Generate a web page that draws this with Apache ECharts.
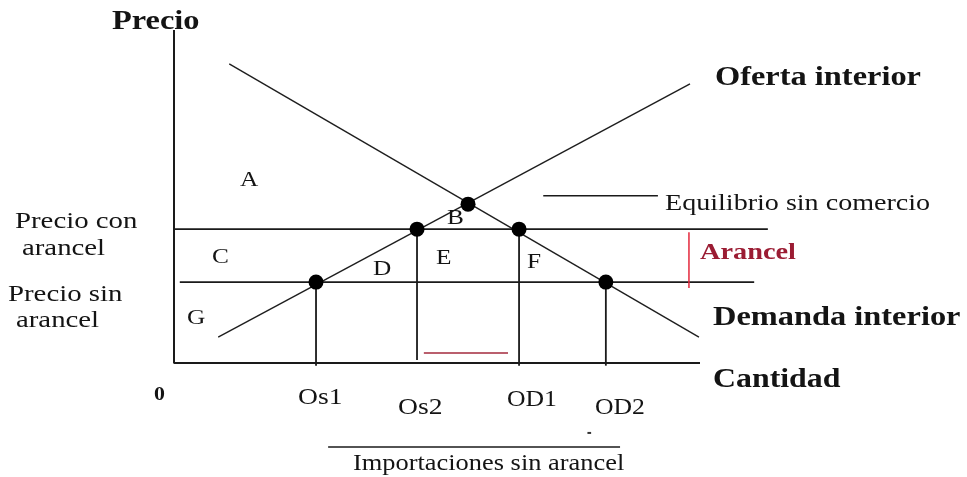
<!DOCTYPE html>
<html><head><meta charset="utf-8">
<script src="https://cdn.jsdelivr.net/npm/echarts@6/dist/echarts.min.js"></script>
<style>html,body{margin:0;padding:0;background:#fff}#c{width:967px;height:477px}</style>
</head><body><div id="c"></div>
<script>
// ---- data (economic units: quantity on x, price on y) ----
const quantityLabels = ['Os1', 'Os2', 'OD1', 'OD2'];
const quantities = [27.0, 46.2, 65.6, 82.1];
const priceWithoutTariff = 24.3;
const priceWithTariff = 40.2;
const equilibrium = [55.9, 47.7];
const supplyCurve = [[8.4, 7.8], [98.1, 83.8]];
const demandCurve = [[10.5, 89.8], [99.8, 7.8]];
const axisMax = [100, 100];
const priceLineWithTariffQ = [0, 112.9];
const priceLineWithoutTariffQ = [1.1, 110.3];
const tariffBracket = { q: 97.9, p: [22.5, 39.3] };
const importsWithTariff = { q: [47.5, 63.5], p: 3.0 };
const equilibriumLeader = { q: [70.2, 92.0], p: 50.2 };
const importsWithoutTariff = { q: [29.3, 84.8], p: -25.2 };
const strayDash = { q: [78.6, 79.3], p: -21.0 };
const areaLabels = ['A', 'B', 'C', 'D', 'E', 'F', 'G'];

const FONT = '"Liberation Serif", "Times New Roman", serif';
const INK = '#141414';

function seg(data, color, width) {
  return { type: 'line', data: data, clip: false, symbol: 'none', silent: true,
    lineStyle: { color: color, width: width, opacity: 1 }, z: 2 };
}

const series = [
  seg([[0, axisMax[1]], [0, 0], [axisMax[0], 0]], '#1a1a1a', 2),
  seg(supplyCurve, '#1e1e1e', 1.4),
  seg(demandCurve, '#1e1e1e', 1.4),
  seg([[priceLineWithTariffQ[0], priceWithTariff], [priceLineWithTariffQ[1], priceWithTariff]], '#1a1a1a', 1.6),
  seg([[priceLineWithoutTariffQ[0], priceWithoutTariff], [priceLineWithoutTariffQ[1], priceWithoutTariff]], '#1a1a1a', 1.6),
  seg([[quantities[0], priceWithoutTariff], [quantities[0], -0.8]], '#1a1a1a', 1.8),
  seg([[quantities[1], priceWithTariff], [quantities[1], 0.9]], '#1a1a1a', 1.8),
  seg([[quantities[2], priceWithTariff], [quantities[2], -0.8]], '#1a1a1a', 1.8),
  seg([[quantities[3], priceWithoutTariff], [quantities[3], -0.8]], '#1a1a1a', 1.8),
  seg([[tariffBracket.q, tariffBracket.p[0]], [tariffBracket.q, tariffBracket.p[1]]], '#e4283c', 1.5),
  seg([[importsWithTariff.q[0], importsWithTariff.p], [importsWithTariff.q[1], importsWithTariff.p]], '#a32a3c', 1.6),
  seg([[equilibriumLeader.q[0], equilibriumLeader.p], [equilibriumLeader.q[1], equilibriumLeader.p]], '#1a1a1a', 1.5),
  seg([[importsWithoutTariff.q[0], importsWithoutTariff.p], [importsWithoutTariff.q[1], importsWithoutTariff.p]], '#1a1a1a', 1.5),
  seg([[strayDash.q[0], strayDash.p], [strayDash.q[1], strayDash.p]], '#333333', 2),
  { type: 'scatter', silent: true, z: 3, symbolSize: 15, itemStyle: { color: '#000000', opacity: 1 },
    data: [[quantities[0], priceWithoutTariff], [quantities[1], priceWithTariff],
           [quantities[2], priceWithTariff], [quantities[3], priceWithoutTariff], equilibrium] }
];

function txt(text, x, y, weight, size, sx, color) {
  return { type: 'text', x: x, y: y, scaleX: sx, z: 10, silent: true,
    style: { text: text, fill: color || INK,
      font: weight + ' ' + size + 'px ' + FONT,
      align: 'left', verticalAlign: 'middle', textAlign: 'left', textVerticalAlign: 'middle' } };
}

const areaPos = [[240, 180], [447, 218], [212, 257], [373, 269], [436, 258], [527, 262], [187, 318]];
const tickPos = [[298, 398], [398, 408], [507, 400], [595, 408]];

const graphics = [
  txt('Precio', 112, 22, 'bold', 27, 1.2),
  txt('Oferta interior', 715, 78, 'bold', 27, 1.2),
  txt('Equilibrio sin comercio', 665, 204, 'normal', 24, 1.17),
  txt('Arancel', 700, 253, 'bold', 24, 1.18, '#9b1c33'),
  txt('Demanda interior', 713, 318, 'bold', 27, 1.2),
  txt('Cantidad', 713, 380, 'bold', 27, 1.18),
  txt('Precio con', 15, 222, 'normal', 24, 1.2),
  txt('arancel', 22, 249, 'normal', 24, 1.2),
  txt('Precio sin', 8, 295, 'normal', 24, 1.2),
  txt('arancel', 16, 321, 'normal', 24, 1.2),
  txt('0', 154, 395, 'bold', 19, 1.15),
  txt('Importaciones sin arancel', 353, 464, 'normal', 24, 1.1)
];
quantityLabels.forEach((l, i) => graphics.push(txt(l, tickPos[i][0], tickPos[i][1], 'normal', 24, i >= 2 ? 1.07 : 1.15)));
areaLabels.forEach((l, i) => graphics.push(txt(l, areaPos[i][0], areaPos[i][1], 'normal', 22, 1.15)));

const chart = echarts.init(document.getElementById('c'), null, { renderer: 'canvas' });
chart.setOption({
  animation: false,
  backgroundColor: '#fff',
  grid: { left: 174, top: 30, width: 631.2, height: 333 },
  xAxis: { type: 'value', min: 0, max: 120, show: false },
  yAxis: { type: 'value', min: 0, max: axisMax[1], show: false },
  series: series,
  graphic: graphics
});
</script>
</body></html>
